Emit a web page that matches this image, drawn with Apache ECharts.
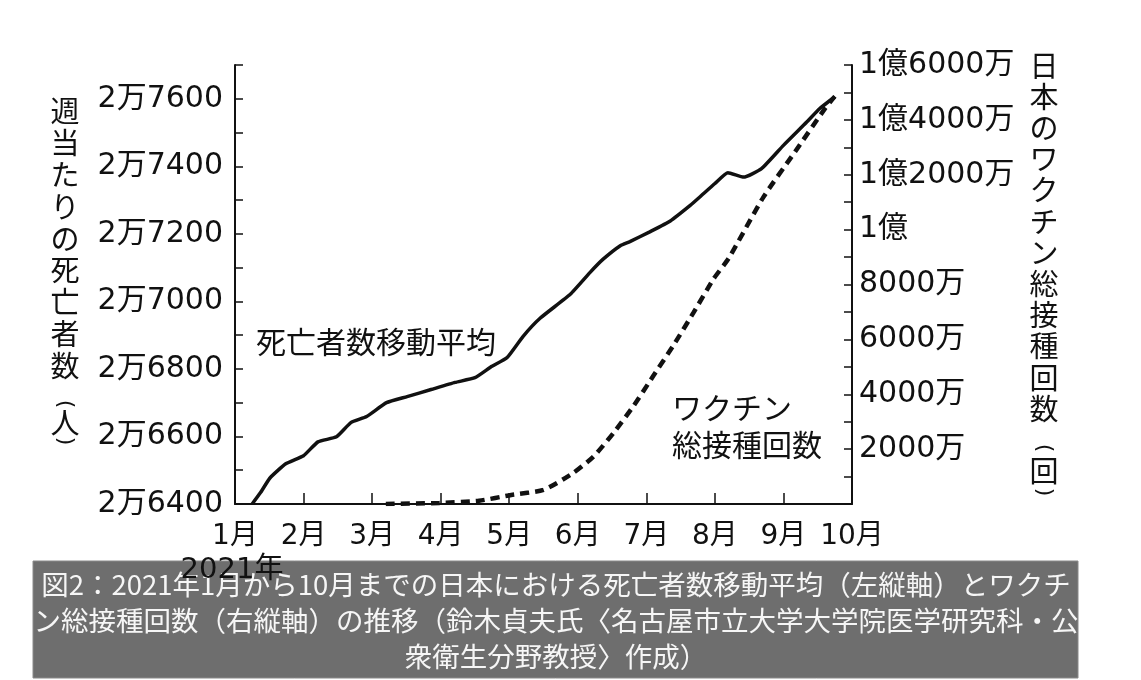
<!DOCTYPE html>
<html>
<head>
<meta charset="utf-8">
<script src="https://cdn.jsdelivr.net/npm/echarts@6.0.0/dist/echarts.min.js"></script>
<style>
html,body{margin:0;padding:0;background:#fff;}
#chart{width:1141px;height:680px;}
</style>
</head>
<body>
<div id="chart"></div>
<script>
// x = month position (1 = start of January 2021, 10 = start of October)
var monthTicks = [1,2,3,4,5,6,7,8,9,10];
// weekly deaths moving average (persons)
var deathMonths = [1.25,1.37,1.51,1.74,2.0,2.21,2.48,2.69,2.92,3.21,3.51,3.86,4.21,4.5,4.74,4.97,5.2,5.45,5.89,6.18,6.37,6.62,6.76,7.05,7.35,7.64,7.78,8.0,8.19,8.42,8.68,9.0,9.34,9.53,9.75];
var deathValues = [26400,26433,26477,26519,26543,26584,26599,26641,26659,26700,26718,26739,26760,26774,26807,26834,26896,26950,27021,27086,27125,27165,27177,27206,27238,27284,27309,27349,27381,27368,27393,27462,27531,27571,27606];
// total vaccine doses in Japan (unit: 万 = 10,000 doses)
var vaccineMonths = [3.2,3.98,4.56,5.03,5.5,5.93,6.23,6.52,6.81,7.1,7.39,7.69,7.98,8.2,8.71,9.17,9.61,9.75];
var vaccineValues10k = [0,40,120,330,513,1124,1733,2588,3563,4662,5760,6983,8202,8950,11194,12841,14427,14855];

var leftTitle = ['週','当','た','り','の','死','亡','者','数'];
var rightTitle = ['日','本','の','ワ','ク','チ','ン','総','接','種','回','数'];
var captionLines = [
  '図2：2021年1月から10月までの日本における死亡者数移動平均（左縦軸）とワクチ',
  'ン総接種回数（右縦軸）の推移（鈴木貞夫氏〈名古屋市立大学大学院医学研究科・公',
  '衆衛生分野教授〉作成）'
];

var numFont = "'DejaVu Sans', 'Noto Sans CJK JP', sans-serif";
var cjkFont = "'Noto Sans CJK JP', sans-serif";

function zip(a, b){ return a.map(function(v,i){ return [v, b[i]]; }); }

var chart = echarts.init(document.getElementById('chart'), null, {renderer:'canvas'});

function txt(text, x, y, size, family, align, extra){
  var st = {text:text, x:x, y:y, fill:'#111', fontSize:size, fontFamily:family,
    align:align || 'center', verticalAlign:'middle', textAlign:align || 'center', textVerticalAlign:'middle'};
  if (extra) for (var k in extra) st[k] = extra[k];
  return {type:'text', z:10, style:st};
}
function vparen(ch, x, y){
  // parenthesis rotated for vertical writing
  return {type:'text', z:10, x:x, y:y, rotation:-Math.PI/2,
    style:{text:ch, x:0, y:0, fill:'#111', fontSize:22, fontFamily:"'DejaVu Sans', sans-serif",
      align:'center', verticalAlign:'middle', textAlign:'center', textVerticalAlign:'middle'}};
}

var graphics = [];
// left vertical title
graphics.push({type:'text', z:10, style:{text: leftTitle.join('\n'), x:65, y:95, fill:'#111', fontSize:29, fontFamily:cjkFont, lineHeight:31.9, align:'center', verticalAlign:'top', textAlign:'center', textVerticalAlign:'top'}});
graphics.push(vparen('(', 65, 404));
graphics.push(txt('人', 65, 423, 29, cjkFont));
graphics.push(vparen(')', 65, 441));
// right vertical title
graphics.push({type:'text', z:10, style:{text: rightTitle.join('\n'), x:1044, y:50, fill:'#111', fontSize:29, fontFamily:cjkFont, lineHeight:31.2, align:'center', verticalAlign:'top', textAlign:'center', textVerticalAlign:'top'}});
graphics.push(vparen('(', 1044, 448));
graphics.push(txt('回', 1044, 471, 29, cjkFont));
graphics.push(vparen(')', 1044, 492));
// in-chart series labels
graphics.push(txt('死亡者数移動平均', 256, 342, 30, cjkFont, 'left'));
graphics.push(txt('ワクチン', 672, 408, 30, cjkFont, 'left'));
graphics.push(txt('総接種回数', 672, 445, 30, cjkFont, 'left'));
// caption box
graphics.push({type:'rect', z:5, shape:{x:33, y:561, width:1045, height:117}, style:{fill:'#6e6e6e', stroke:'#8a8a8a', lineWidth:1}});
var capY = [585, 621, 657];
captionLines.forEach(function(t, i){
  graphics.push({type:'text', z:6, style:{text:t, x:556, y:capY[i], fill:'#f6f6f6', fontSize:27.5, fontFamily:cjkFont, align:'center', verticalAlign:'middle', textAlign:'center', textVerticalAlign:'middle'}});
});
// year label drawn over the box
graphics.push({type:'text', z:20, style:{text:'2021年', x:232, y:570, fill:'#111', fontSize:29, fontFamily:numFont, align:'center', verticalAlign:'middle', textAlign:'center', textVerticalAlign:'middle'}});

var option = {
  backgroundColor:'#ffffff',
  animation:false,
  grid:{left:235, right:289, top:65, bottom:176, containLabel:false},
  xAxis:{
    type:'value', min:1, max:10, interval:1,
    axisLine:{show:true, onZero:false, lineStyle:{color:'#111', width:2}},
    axisTick:{show:true, inside:true, length:11, lineStyle:{color:'#111', width:1.5}},
    splitLine:{show:false},
    axisLabel:{color:'#111', fontSize:28, fontFamily:numFont, margin:19, formatter:function(v){ return v + '月'; }}
  },
  yAxis:[{
    type:'value', min:26400, max:27700, interval:100, position:'left',
    axisLine:{show:true, lineStyle:{color:'#111', width:2}},
    axisTick:{show:true, inside:true, length:8, lineStyle:{color:'#111', width:1.5}},
    splitLine:{show:false},
    axisLabel:{color:'#111', fontSize:30, fontFamily:numFont, margin:12,
      formatter:function(v){ if ((v - 26400) % 200 !== 0) return ''; return '2万' + (v - 20000); }}
  },{
    type:'value', min:0, max:16000, interval:1000, position:'right',
    axisLine:{show:true, lineStyle:{color:'#111', width:2}},
    axisTick:{show:true, inside:true, length:8, lineStyle:{color:'#111', width:1.5}},
    splitLine:{show:false},
    axisLabel:{color:'#111', fontSize:30, fontFamily:numFont, margin:7,
      formatter:function(v){
        if (v === 0 || v % 2000 !== 0) return '';
        if (v >= 10000) { var r = v - 10000; return '1億' + (r > 0 ? r + '万' : ''); }
        return v + '万';
      }}
  }],
  series:[{
    name:'死亡者数移動平均', type:'line', yAxisIndex:0, data:zip(deathMonths, deathValues),
    showSymbol:false, smooth:0.15, lineStyle:{color:'#111', width:3.5}, z:3
  },{
    name:'ワクチン総接種回数', type:'line', yAxisIndex:1, data:zip(vaccineMonths, vaccineValues10k),
    showSymbol:false, smooth:0.2, lineStyle:{color:'#111', width:4.5, type:[9,6]}, z:2
  }],
  graphic:graphics
};
chart.setOption(option);
</script>
</body>
</html>
